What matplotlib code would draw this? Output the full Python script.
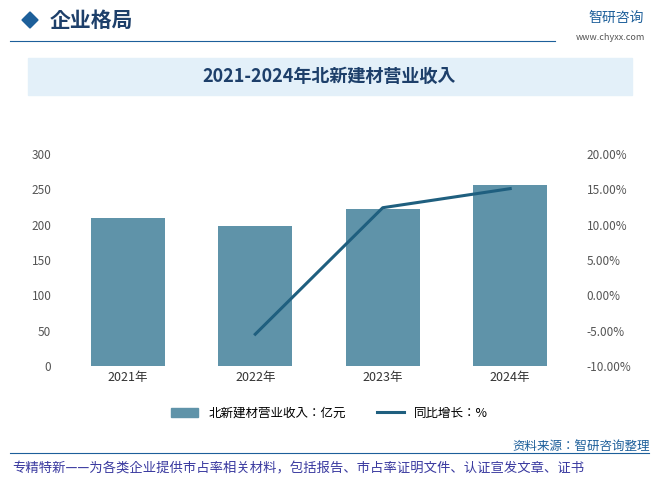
import matplotlib.pyplot as plt
from matplotlib.patches import Rectangle, Polygon
from matplotlib.lines import Line2D
from matplotlib import font_manager

names = {f.name for f in font_manager.fontManager.ttflist}
cjk = [n for n in ['Noto Sans CJK SC', 'Noto Sans CJK JP', 'Noto Sans CJK TC', 'Noto Sans CJK KR'] if n in names]
plt.rcParams['font.family'] = 'sans-serif'
plt.rcParams['font.sans-serif'] = cjk + ['DejaVu Sans']

years = ['2021年', '2022年', '2023年', '2024年']
revenue = [209.5, 198.5, 222.5, 256.5]
growth_years = ['2022年', '2023年', '2024年']
growth = [-5.5, 12.4, 15.1]

bar_color = '#5f93a9'
line_color = '#1f5f7f'

fig = plt.figure(figsize=(6.59, 4.88), dpi=100)
W, H = 659, 488

# header
fig.patches.append(Polygon([[22/W, 1-20/H], [30/W, 1-12/H], [38/W, 1-20/H], [30/W, 1-28/H]],
                           closed=True, transform=fig.transFigure, color='#1d5f9a'))
fig.text(50/W, 1-20/H, '企业格局', fontsize=15, color='#1d3f6a', va='center', weight='bold')
fig.add_artist(Line2D([10/W, 555/W], [1-41/H, 1-41/H], color='#1d5f9a', lw=0.8, transform=fig.transFigure))
fig.text(645/W, 1-38/H, 'www.chyxx.com', fontsize=6.5, color='#555555', va='center', ha='right')
fig.text(588/W, 1-18/H, '智研咨询', fontsize=10, color='#1d5f9a', va='center')

# title band
fig.patches.append(Rectangle((28/W, 1-95/H), 604/W, 37/H, transform=fig.transFigure,
                             color='#e3f0f9', zorder=0))
fig.text(0.5, 1-76/H, '2021-2024年北新建材营业收入', fontsize=13, weight='bold',
         color='#1d3f6a', ha='center', va='center')

ax = fig.add_axes([68/W, 1-366/H, 502/W, 212/H])
ax.bar(years, revenue, width=0.58, color=bar_color, zorder=2)
ax.set_ylim(0, 300)
ax.set_yticks(range(0, 301, 50))
for s in ax.spines.values():
    s.set_visible(False)
ax.tick_params(length=0, labelsize=9, colors='#333333')
ax.tick_params(axis='y', colors='#555555', labelsize=8.5, pad=12)

ax2 = ax.twinx()
ax2.plot(growth_years, growth, color=line_color, lw=2.2)
ax2.set_ylim(-10, 20)
ax2.set_yticks(range(-10, 21, 5))
ax2.set_yticklabels([f'{v:.2f}%' for v in range(-10, 21, 5)])
for s in ax2.spines.values():
    s.set_visible(False)
ax2.tick_params(length=0, labelsize=8.5, colors='#555555', pad=12)

handles = [Rectangle((0, 0), 1, 1, color=bar_color), Line2D([], [], color=line_color, lw=2.2)]
fig.legend(handles, ['北新建材营业收入：亿元', '同比增长：%'], loc='center',
           bbox_to_anchor=(0.5, 1-413/H), ncol=2, frameon=False, fontsize=9,
           columnspacing=2.5, handlelength=2.2)

# footer
fig.add_artist(Line2D([10/W, 649/W], [1-453/H, 1-453/H], color='#1d5f9a', lw=0.8, transform=fig.transFigure))
fig.text(650/W, 1-446/H, '资料来源：智研咨询整理', fontsize=9, color='#1d5f9a', ha='right', va='center')
fig.text(12/W, 1-468/H, '专精特新——为各类企业提供市占率相关材料，包括报告、市占率证明文件、认证宣发文章、证书',
         fontsize=9.6, color='#3a3aa0', va='center')

fig.savefig('out.png', dpi=100)
